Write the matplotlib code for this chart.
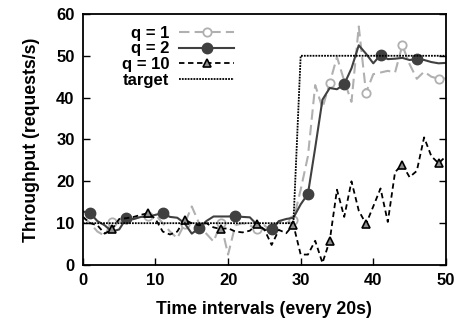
import matplotlib
matplotlib.use("Agg")
import matplotlib.pyplot as plt

plt.rcParams['font.family'] = ['Liberation Sans', 'DejaVu Sans']
plt.rcParams['font.weight'] = 'bold'

x = list(range(51))

q1 = [11.5, 10, 8, 7, 10.4, 10.5, 10, 11, 11.5, 11.8,
      12, 10, 8, 6.4, 9.8, 14, 10, 7.5, 5.6, 10,
      2.5, 9.5, 10, 9.5, 8.5, 9.5, 8, 10.5, 10, 10.8,
      18, 26, 43, 37.5, 43.5, 49.7, 44, 39, 57, 41.2,
      45.6, 46, 46.4, 46, 52.5, 48, 44.5, 46.2, 45, 44.5, 44.6]

q2 = [12.8, 12.4, 10.5, 9.5, 8, 8.5, 11.2, 11, 11.5, 11.5,
      12, 12.4, 11.5, 11.3, 10, 7.5, 8.8, 10.5, 11.6, 11.6,
      11.6, 11.7, 11.5, 11.4, 9.6, 8.4, 8.5, 10.5, 11, 11.3,
      14.5, 17, 28, 39.5, 42.3, 42, 43.2, 47, 52.5, 50.5,
      48.2, 50.2, 49.2, 49.3, 49.5, 49, 49.2, 49, 48.5, 48.2, 48.3]

q10 = [11.5, 10, 9.5, 7.5, 8.5, 11, 11.2, 11.5, 12, 12.4,
       11, 8, 7.3, 8, 10.8, 10, 9.5, 10, 9, 8.6,
       8.8, 8, 7.8, 8.2, 9.8, 8.5, 4.8, 8.4, 7.6, 9.6,
       2.5, 2.5, 5.8, 0.5, 5.8, 18, 11.5, 20, 13, 9.8,
       14, 18.3, 10.3, 22.2, 24, 21, 22.5, 30.5, 26, 24.3, 26]

target = [10] * 30 + [50] * 21

fig = plt.figure(figsize=(4.63, 3.24), dpi=100)
ax = fig.add_axes([0.179, 0.182, 0.784, 0.775])

ax.plot(x, q1, color='#b0b0b0', ls=(0, (5, 2.5)), lw=1.5, marker='o', markevery=(4, 5),
        ms=6, mfc='white', mec='#b0b0b0', mew=1.3, label='q = 1')
ax.plot(x, q2, color='#404040', ls='-', lw=1.5, marker='o', markevery=(1, 5),
        ms=7.5, mfc='#404040', mec='#404040', label='q = 2')
ax.plot(x, q10, color='black', ls=(0, (3, 2)), lw=1.3, marker='^', markevery=(4, 5),
        ms=6, mfc='#909090', mec='black', mew=1.2, label='q = 10')
ax.plot(x, target, color='black', ls=(0, (1, 0.6)), lw=1.3, label='target')

ax.set_xlim(0, 50)
ax.set_ylim(0, 60)
ax.set_xticks(range(0, 51, 10))
ax.set_yticks(range(0, 61, 10))
ax.tick_params(direction='in', length=5, width=1, labelsize=12, right=True, top=False, pad=6)
for s in ax.spines.values():
    s.set_linewidth(1.3)

ax.set_xlabel('Time intervals (every 20s)', fontsize=12.7, fontweight='bold', labelpad=9)
ax.set_ylabel('Throughput (requests/s)', fontsize=12.7, fontweight='bold', labelpad=12)

ax.legend(loc='upper left', frameon=False, markerfirst=False, fontsize=12,
          handlelength=3.3, handletextpad=0.6, labelspacing=0.05,
          borderaxespad=0.3, bbox_to_anchor=(0.075, 1.0))

fig.savefig('out.png', dpi=100)
